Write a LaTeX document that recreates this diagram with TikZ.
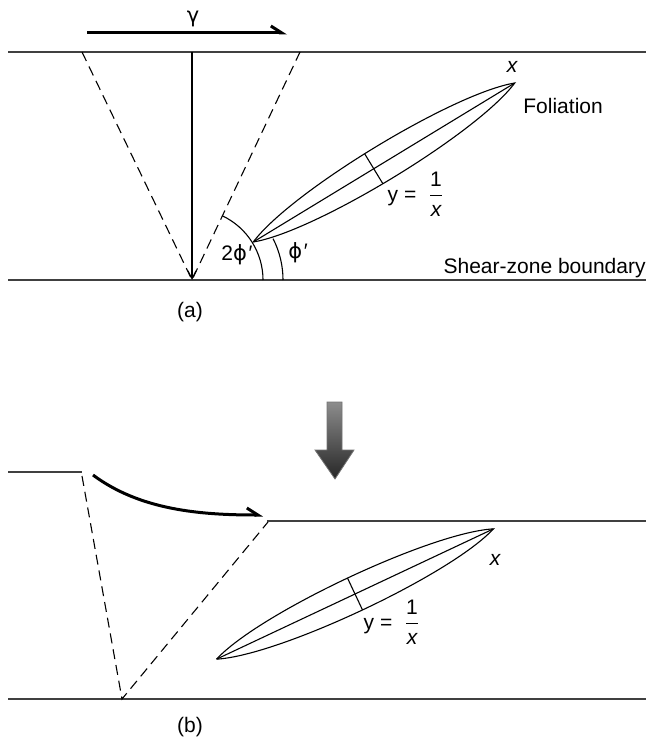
\documentclass[tikz,border=0pt]{standalone}
\usepackage{fontspec}
\setmainfont{Liberation Sans}
\newfontfamily\greekfont{DejaVu Sans}
\usetikzlibrary{arrows.meta,positioning,calc}

\newcommand{\fol}{{\greekfont ϕ}\kern0.08em′}
\newcommand{\ratio}{y =\hspace{0.55em}$\displaystyle\frac{\hbox{1}}{\hbox{\itshape x}}$}

\begin{document}
\begin{tikzpicture}[x=0.5pt,y=-0.5pt,font=\fontsize{10.5}{12}\selectfont,
  boundary/.style={draw=black!75,line width=1pt},
  guide/.style={dash pattern=on 5pt off 3pt,line width=0.55pt},
  shear/.style={line width=1.5pt,-{Straight Barb[left,length=5.5pt,width=7pt]}},
  lens/.style={line width=0.55pt},
  tag/.style={inner sep=0pt}]
\useasboundingbox (0,0) rectangle (646,738);

% (a) before shearing
\coordinate (topL) at (8,52);   \coordinate (topR) at (646,52);
\coordinate (botL) at (8,280);  \coordinate (botR) at (646,280);
\coordinate (vtx) at (192,280);
\coordinate (dashL) at (82,52); \coordinate (dashR) at (300,52);
\draw[boundary] (topL) -- (topR);
\draw[boundary] (botL) -- (botR);
\draw[guide] (dashL) -- (vtx) -- (dashR);
\draw[line width=0.55pt,-{Straight Barb[length=4pt,width=4pt]}] (192,52) -- (vtx);

\coordinate (gamS) at (87,33); \coordinate (gamE) at (287,33);
\draw[shear] (gamS) -- (gamE);
\node (gam) at (193,19) {\greekfont γ};

\begin{scope}[shift={(384,162.5)},rotate=31.3]
  \coordinate (tipA1) at (-153,0); \coordinate (tipB1) at (153,0);
  \draw[lens] (tipA1) .. controls (-95,-23.5) and (95,-23.5) .. (tipB1)
              .. controls (95,23.5) and (-95,23.5) .. (tipA1);
  \draw[lens] (tipA1) -- (tipB1);
  \draw[lens] (-12,-17.5) -- (-12,17.5);
\end{scope}

\draw[lens] (vtx) ++(0:71) arc[start angle=0,end angle=-64.6,radius=71];
\draw[lens] (vtx) ++(0:91) arc[start angle=0,end angle=-27,radius=91];
\node (twophi) at (237,255) {2\fol};
\node (phi) at (298,253) {\fol};

\node[tag,anchor=base] (xa) at (512,73) {\itshape x};
\node[tag,anchor=base west] (folia) at (523,113) {Foliation};
\node (ya) at (416,194) {\ratio};
\node[tag,anchor=base east] (szb) at (646,273) {Shear-zone boundary};
\node (laba) at (190,312) {(a)};

% transition arrow
\shade[top color=black!45,bottom color=black!85,draw=black!55,line width=0.4pt]
  (327,402) -- (342,402) -- (342,450) -- (354,450) -- (335,479)
  -- (315,450) -- (327,450) -- cycle;

% (b) after shearing
\coordinate (upL1) at (8,472);  \coordinate (upL2) at (82,472);
\coordinate (upR1) at (267,521); \coordinate (upR2) at (646,521);
\coordinate (lowL) at (8,699);  \coordinate (lowR) at (646,699);
\coordinate (vtxb) at (122,699);
\coordinate (dashLb) at (82,476); \coordinate (dashRb) at (268,522);
\draw[boundary] (upL1) -- (upL2);
\draw[boundary] (upR1) -- (upR2);
\draw[boundary] (lowL) -- (lowR);
\draw[guide] (dashLb) -- (vtxb) -- (dashRb);

\coordinate (bendS) at (93,475); \coordinate (bendE) at (263,515);
\draw[shear] (bendS) .. controls (140,510) and (200,515) .. (bendE);

\begin{scope}[shift={(355,594)},rotate=25.2]
  \coordinate (tipA2) at (-153,0); \coordinate (tipB2) at (153,0);
  \draw[lens] (tipA2) .. controls (-95,-23.5) and (95,-23.5) .. (tipB2)
              .. controls (95,23.5) and (-95,23.5) .. (tipA2);
  \draw[lens] (tipA2) -- (tipB2);
  \draw[lens] (0,-17.5) -- (0,17.5);
\end{scope}

\node[tag,anchor=base] (xb) at (495,565) {\itshape x};
\node (yb) at (392,622) {\ratio};
\node (labb) at (190,727) {(b)};
\end{tikzpicture}
\end{document}
